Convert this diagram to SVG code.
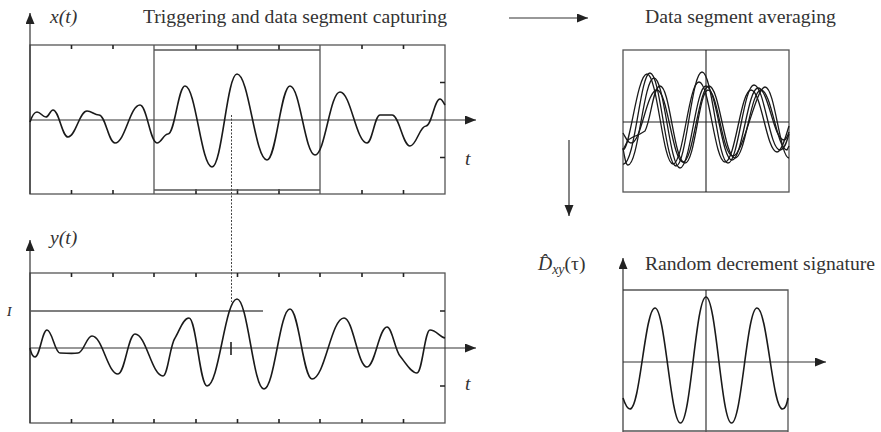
<svg xmlns="http://www.w3.org/2000/svg" width="881" height="432" viewBox="0 0 881 432">
<defs>
<marker id="ah" markerUnits="userSpaceOnUse" markerWidth="12" markerHeight="10" refX="11" refY="4.5" orient="auto">
<path d="M0,0 L11,4.5 L0,9 z" fill="#222"/>
</marker>
<style>
.frame{fill:none;stroke:#555;stroke-width:1.3}
.axis{fill:none;stroke:#333;stroke-width:1.2}
.tick{fill:none;stroke:#222;stroke-width:1.6}
.sig{fill:none;stroke:#1a1a1a;stroke-width:1.6;stroke-linejoin:round}
.thin{fill:none;stroke:#222;stroke-width:1.1}
.ttl{font-family:"Liberation Serif",serif;font-size:19.6px;fill:#333}
.math{font-family:"Liberation Serif",serif;font-size:19.6px;font-style:italic;fill:#333}
</style>
</defs>
<rect width="881" height="432" fill="#fff"/>

<g id="plot-x">
<rect class="frame" x="30" y="45" width="415" height="149"/>
<line class="axis" x1="30" y1="194" x2="30" y2="13" marker-end="url(#ah)"/>
<line class="axis" x1="30" y1="120" x2="476" y2="120" marker-end="url(#ah)"/>
<path class="tick" d="M71.5,45v4M113,45v4M196,45v5M237.5,45v5M279,45v5M362,45v4M403.5,45v4M71.5,194v-4M113,194v-4M196,194v-5M237.5,194v-5M279,194v-5M362,194v-4M403.5,194v-4M445,82.5h-5M445,157.5h-5"/>
<path class="frame" d="M154,45V194M320,45V194M154,50H320M154,190H320"/>
<path class="sig" d="M30,122 C32,116 34.2,112 37,112 C40.6,112 42.4,117 46,117 C48.8,117 50.2,110 53,110 C59,110 62,137 68,137 C75.6,137 79.4,111 87,111 C91.8,111 94.2,115 99,115 C105.4,115 108.6,143 115,143 C125,143 130,105 140,105 C146.8,105 150.2,143 157,143 C161.4,143 163.6,134 168,134 C174.8,134 178.2,86 185,86 C195.8,86 201.2,167 212,167 C222,167 227,74 237,74 C249,74 255,160 267,160 C276.2,160 280.8,86 290,86 C300,86 305,155 315,155 C325,155 330,92 340,92 C350.8,92 356.2,143 367,143 C372.2,143 374.8,115 380,115 C384.8,115 387.2,115 392,115 C399.2,115 402.8,146 410,146 C416.4,146 419.6,126 426,126 C431.6,126 434.4,99 440,99 C442,99 443,102 445,105"/>
<text class="math" x="50" y="23">x(t)</text>
<text class="ttl" x="143" y="23" textLength="304" lengthAdjust="spacingAndGlyphs">Triggering and data segment capturing</text>
<text class="math" x="465" y="165">t</text>
</g>

<g id="plot-y">
<rect class="frame" x="30" y="273" width="415" height="150"/>
<line class="axis" x1="30" y1="423" x2="30" y2="240" marker-end="url(#ah)"/>
<line class="axis" x1="30" y1="348" x2="476" y2="348" marker-end="url(#ah)"/>
<path class="tick" d="M71.5,273v4M113,273v4M154,273v4M196,273v4M237.5,273v4M279,273v4M320,273v4M362,273v4M403.5,273v4M71.5,423v-4M113,423v-4M154,423v-4M196,423v-4M237.5,423v-4M279,423v-4M320,423v-4M362,423v-4M403.5,423v-4M445,311h-5M445,386h-5M231,342v13"/>
<line class="frame" x1="30" y1="311" x2="263" y2="311"/>
<path class="sig" d="M30,348 C31,353 33,357 35,357 C39.8,357 42.2,330 47,330 C52.2,330 54.8,353 60,353 C67,353 71,354 78,353 C83.6,353 86.4,336 92,336 C102.4,336 107.6,374 118,374 C124.8,374 128.2,334 135,334 C146.2,334 151.8,376 163,376 C167.8,376 170,345 175,338 C179,332 183,318 189,318 C196.2,318 199.8,386 207,386 C219,386 225,299 237,299 C247.8,299 253.2,389 264,389 C274.4,389 279.6,309 290,309 C298.8,309 303.2,379 312,379 C324.8,379 331.2,318 344,318 C353.2,318 357.8,367 367,367 C375,367 379,327 387,327 C392,327 395,350 400,356 C405,362 411,373 417,373 C422.2,373 424.8,330 430,330 C436,330 440,337 445,338"/>
<text class="math" x="50" y="244">y(t)</text>
<text class="math" x="7" y="316" style="font-size:18px">ɪ</text>
<text class="math" x="465" y="390">t</text>
</g>

<g id="plot-avg">
<rect class="frame" x="623" y="50" width="166" height="142"/>
<path class="thin" d="M706,50V192M623,122H789"/>
<path class="sig" style="stroke-width:1.3" d="M623,164 C635,166 640,73 650,73 C660.4,73 665.6,166 676,166 C686.4,166 691.6,72 702,72 C712.4,72 717.6,163 728,163 C738.4,163 743.6,85 754,85 C764.4,85 769.6,150 780,150 C785,150 787,140 789,134"/>
<path class="sig" style="stroke-width:1.3" d="M623,150 C630,150 637,74 647,74 C657.4,74 662.6,164 673,164 C683.4,164 688.6,82 699,82 C709.4,82 714.6,162 725,162 C735.4,162 740.6,90 751,90 C761.4,90 766.6,152 777,152 C782,152 786,135 789,126"/>
<path class="sig" style="stroke-width:1.3" d="M623,148 C625,160 626,165 628,165 C638.4,165 643.6,78 654,78 C664.4,78 669.6,168 680,168 C690.4,168 695.6,86 706,86 C716.4,86 721.6,160 732,160 C742.4,160 747.6,88 758,88 C768.4,88 773.6,140 784,140 C786,140 788,135 789,132"/>
<path class="sig" style="stroke-width:1.3" d="M623,133 C627,140 628,143 631,143 C641.4,143 646.6,90 657,90 C667.4,90 672.6,162 683,162 C693.4,162 698.6,86 709,86 C719.4,86 724.6,158 735,158 C745.4,158 750.6,90 761,90 C771.4,90 777,150 787,150 L789,146"/>
<path class="sig" style="stroke-width:1.3" d="M623,150 L628,140 L633,137 L640,134 L645,131 C651,120 653,86 660,86 C670,86 674,163 685,163 C695,163 699,90 708,90 C718,90 722,156 733,156 C743,156 756,87 765,87 C775,87 780,158 789,158"/>
<text class="ttl" x="645" y="23" textLength="191" lengthAdjust="spacingAndGlyphs">Data segment averaging</text>
</g>

<g id="plot-rds">
<path class="frame" d="M623,290H788V432"/>
<line class="thin" x1="706" y1="290" x2="706" y2="432"/>
<line class="axis" x1="623" y1="432" x2="623" y2="258" marker-end="url(#ah)"/>
<line class="axis" x1="623" y1="362" x2="826" y2="362" marker-end="url(#ah)"/>
<line class="frame" x1="623" y1="431" x2="788" y2="431"/>
<path class="sig" d="M623,398 C625,404 627,409 630,409 C640,409 645,308 655,308 C665,308 670.5,423 680.5,423 C690.7,423 695.8,297 706,297 C716.2,297 721.3,423 731.5,423 C741.7,423 746.8,308 757,308 C767.2,308 772.3,409 782.5,409 C785,409 787,404 788,398"/>
<text class="math" x="538" y="270">D̂<tspan font-size="14" dy="4">xy</tspan><tspan dy="-4" font-style="normal">(τ)</tspan></text>
<text class="ttl" x="645" y="270" textLength="230" lengthAdjust="spacingAndGlyphs">Random decrement signature</text>
</g>

<g id="connectors">
<line class="axis" x1="509" y1="18" x2="588" y2="18" marker-end="url(#ah)"/>
<line class="axis" x1="569" y1="140" x2="569" y2="216" marker-end="url(#ah)"/>
<line x1="231.5" y1="115" x2="231.5" y2="302" stroke="#444" stroke-width="1" stroke-dasharray="2,1.5"/>
</g>
</svg>
